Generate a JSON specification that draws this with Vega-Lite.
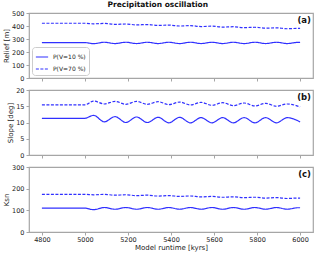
{
  "$schema": "https://vega.github.io/schema/vega-lite/v6.json",
  "padding": {"left": 1, "right": 6, "top": 0, "bottom": 0},
  "title": {"text": "Precipitation oscillation", "fontSize": 7.5, "font": "DejaVu Sans", "fontWeight": "bold", "offset": 1, "anchor": "middle", "color": "#111"},
  "config": {
    "font": "DejaVu Sans",
    "view": {"stroke": "#a6a6a6", "strokeWidth": 1.2},
    "axis": {"domain": false, "grid": false, "labelFontSize": 6.5, "titleFontSize": 7, "titleFontWeight": "normal", "tickColor": "#a6a6a6", "tickSize": 3, "labelColor": "#222", "titleColor": "#222", "labelPadding": 2, "titlePadding": 2, "labelOverlap": false},
    "legend": {"symbolStrokeColor": "#3030ff"}
  },
  "data": {"values": [
    {"panel": "Relief", "series": "P(V=10 %)", "t": 4800, "v": 272},
    {"panel": "Relief", "series": "P(V=10 %)", "t": 5000, "v": 272},
    {"panel": "Relief", "series": "P(V=10 %)", "t": 5040, "v": 264},
    {"panel": "Relief", "series": "P(V=10 %)", "t": 5090, "v": 275},
    {"panel": "Relief", "series": "P(V=10 %)", "t": 5140, "v": 265},
    {"panel": "Relief", "series": "P(V=10 %)", "t": 5190, "v": 275},
    {"panel": "Relief", "series": "P(V=10 %)", "t": 5240, "v": 265},
    {"panel": "Relief", "series": "P(V=10 %)", "t": 5290, "v": 275},
    {"panel": "Relief", "series": "P(V=10 %)", "t": 5340, "v": 265},
    {"panel": "Relief", "series": "P(V=10 %)", "t": 5390, "v": 275},
    {"panel": "Relief", "series": "P(V=10 %)", "t": 5440, "v": 265},
    {"panel": "Relief", "series": "P(V=10 %)", "t": 5490, "v": 275},
    {"panel": "Relief", "series": "P(V=10 %)", "t": 5540, "v": 265},
    {"panel": "Relief", "series": "P(V=10 %)", "t": 5590, "v": 275},
    {"panel": "Relief", "series": "P(V=10 %)", "t": 5640, "v": 265},
    {"panel": "Relief", "series": "P(V=10 %)", "t": 5690, "v": 275},
    {"panel": "Relief", "series": "P(V=10 %)", "t": 5740, "v": 265},
    {"panel": "Relief", "series": "P(V=10 %)", "t": 5790, "v": 275},
    {"panel": "Relief", "series": "P(V=10 %)", "t": 5840, "v": 265},
    {"panel": "Relief", "series": "P(V=10 %)", "t": 5890, "v": 275},
    {"panel": "Relief", "series": "P(V=10 %)", "t": 5940, "v": 265},
    {"panel": "Relief", "series": "P(V=10 %)", "t": 5990, "v": 274},
    {"panel": "Relief", "series": "P(V=10 %)", "t": 6000, "v": 274},
    {"panel": "Relief", "series": "P(V=70 %)", "t": 4800, "v": 421},
    {"panel": "Relief", "series": "P(V=70 %)", "t": 5000, "v": 421},
    {"panel": "Relief", "series": "P(V=70 %)", "t": 5040, "v": 416.8},
    {"panel": "Relief", "series": "P(V=70 %)", "t": 5090, "v": 419.7},
    {"panel": "Relief", "series": "P(V=70 %)", "t": 5140, "v": 412.6},
    {"panel": "Relief", "series": "P(V=70 %)", "t": 5190, "v": 415.5},
    {"panel": "Relief", "series": "P(V=70 %)", "t": 5240, "v": 408.4},
    {"panel": "Relief", "series": "P(V=70 %)", "t": 5290, "v": 411.3},
    {"panel": "Relief", "series": "P(V=70 %)", "t": 5340, "v": 404.2},
    {"panel": "Relief", "series": "P(V=70 %)", "t": 5390, "v": 407.1},
    {"panel": "Relief", "series": "P(V=70 %)", "t": 5440, "v": 400.0},
    {"panel": "Relief", "series": "P(V=70 %)", "t": 5490, "v": 402.9},
    {"panel": "Relief", "series": "P(V=70 %)", "t": 5540, "v": 395.8},
    {"panel": "Relief", "series": "P(V=70 %)", "t": 5590, "v": 398.7},
    {"panel": "Relief", "series": "P(V=70 %)", "t": 5640, "v": 391.6},
    {"panel": "Relief", "series": "P(V=70 %)", "t": 5690, "v": 394.5},
    {"panel": "Relief", "series": "P(V=70 %)", "t": 5740, "v": 387.4},
    {"panel": "Relief", "series": "P(V=70 %)", "t": 5790, "v": 390.3},
    {"panel": "Relief", "series": "P(V=70 %)", "t": 5840, "v": 383.2},
    {"panel": "Relief", "series": "P(V=70 %)", "t": 5890, "v": 386.1},
    {"panel": "Relief", "series": "P(V=70 %)", "t": 5940, "v": 379.0},
    {"panel": "Relief", "series": "P(V=70 %)", "t": 5990, "v": 381.9},
    {"panel": "Relief", "series": "P(V=70 %)", "t": 6000, "v": 381.5},
    {"panel": "Slope", "series": "P(V=10 %)", "t": 4800, "v": 11.3},
    {"panel": "Slope", "series": "P(V=10 %)", "t": 5000, "v": 11.3},
    {"panel": "Slope", "series": "P(V=10 %)", "t": 5040, "v": 12.2},
    {"panel": "Slope", "series": "P(V=10 %)", "t": 5090, "v": 10.2},
    {"panel": "Slope", "series": "P(V=10 %)", "t": 5140, "v": 11.8},
    {"panel": "Slope", "series": "P(V=10 %)", "t": 5190, "v": 10.0},
    {"panel": "Slope", "series": "P(V=10 %)", "t": 5240, "v": 11.7},
    {"panel": "Slope", "series": "P(V=10 %)", "t": 5290, "v": 10.0},
    {"panel": "Slope", "series": "P(V=10 %)", "t": 5340, "v": 11.6},
    {"panel": "Slope", "series": "P(V=10 %)", "t": 5390, "v": 9.9},
    {"panel": "Slope", "series": "P(V=10 %)", "t": 5440, "v": 11.6},
    {"panel": "Slope", "series": "P(V=10 %)", "t": 5490, "v": 9.9},
    {"panel": "Slope", "series": "P(V=10 %)", "t": 5540, "v": 11.5},
    {"panel": "Slope", "series": "P(V=10 %)", "t": 5590, "v": 9.9},
    {"panel": "Slope", "series": "P(V=10 %)", "t": 5640, "v": 11.5},
    {"panel": "Slope", "series": "P(V=10 %)", "t": 5690, "v": 9.9},
    {"panel": "Slope", "series": "P(V=10 %)", "t": 5740, "v": 11.5},
    {"panel": "Slope", "series": "P(V=10 %)", "t": 5790, "v": 9.9},
    {"panel": "Slope", "series": "P(V=10 %)", "t": 5840, "v": 11.5},
    {"panel": "Slope", "series": "P(V=10 %)", "t": 5890, "v": 9.9},
    {"panel": "Slope", "series": "P(V=10 %)", "t": 5940, "v": 11.5},
    {"panel": "Slope", "series": "P(V=10 %)", "t": 6000, "v": 10.2},
    {"panel": "Slope", "series": "P(V=70 %)", "t": 4800, "v": 15.45},
    {"panel": "Slope", "series": "P(V=70 %)", "t": 5000, "v": 15.45},
    {"panel": "Slope", "series": "P(V=70 %)", "t": 5040, "v": 16.6},
    {"panel": "Slope", "series": "P(V=70 %)", "t": 5090, "v": 15.7},
    {"panel": "Slope", "series": "P(V=70 %)", "t": 5140, "v": 16.5},
    {"panel": "Slope", "series": "P(V=70 %)", "t": 5190, "v": 15.6},
    {"panel": "Slope", "series": "P(V=70 %)", "t": 5240, "v": 16.5},
    {"panel": "Slope", "series": "P(V=70 %)", "t": 5290, "v": 15.6},
    {"panel": "Slope", "series": "P(V=70 %)", "t": 5340, "v": 16.4},
    {"panel": "Slope", "series": "P(V=70 %)", "t": 5390, "v": 15.5},
    {"panel": "Slope", "series": "P(V=70 %)", "t": 5440, "v": 16.3},
    {"panel": "Slope", "series": "P(V=70 %)", "t": 5490, "v": 15.4},
    {"panel": "Slope", "series": "P(V=70 %)", "t": 5540, "v": 16.2},
    {"panel": "Slope", "series": "P(V=70 %)", "t": 5590, "v": 15.3},
    {"panel": "Slope", "series": "P(V=70 %)", "t": 5640, "v": 16.1},
    {"panel": "Slope", "series": "P(V=70 %)", "t": 5690, "v": 15.2},
    {"panel": "Slope", "series": "P(V=70 %)", "t": 5740, "v": 16.0},
    {"panel": "Slope", "series": "P(V=70 %)", "t": 5790, "v": 15.1},
    {"panel": "Slope", "series": "P(V=70 %)", "t": 5840, "v": 15.9},
    {"panel": "Slope", "series": "P(V=70 %)", "t": 5890, "v": 15.0},
    {"panel": "Slope", "series": "P(V=70 %)", "t": 5940, "v": 15.7},
    {"panel": "Slope", "series": "P(V=70 %)", "t": 6000, "v": 14.8},
    {"panel": "Ksn", "series": "P(V=10 %)", "t": 4800, "v": 110},
    {"panel": "Ksn", "series": "P(V=10 %)", "t": 5000, "v": 110},
    {"panel": "Ksn", "series": "P(V=10 %)", "t": 5040, "v": 103},
    {"panel": "Ksn", "series": "P(V=10 %)", "t": 5090, "v": 113},
    {"panel": "Ksn", "series": "P(V=10 %)", "t": 5140, "v": 105},
    {"panel": "Ksn", "series": "P(V=10 %)", "t": 5190, "v": 113},
    {"panel": "Ksn", "series": "P(V=10 %)", "t": 5240, "v": 105},
    {"panel": "Ksn", "series": "P(V=10 %)", "t": 5290, "v": 113},
    {"panel": "Ksn", "series": "P(V=10 %)", "t": 5340, "v": 105},
    {"panel": "Ksn", "series": "P(V=10 %)", "t": 5390, "v": 113},
    {"panel": "Ksn", "series": "P(V=10 %)", "t": 5440, "v": 105},
    {"panel": "Ksn", "series": "P(V=10 %)", "t": 5490, "v": 113},
    {"panel": "Ksn", "series": "P(V=10 %)", "t": 5540, "v": 105},
    {"panel": "Ksn", "series": "P(V=10 %)", "t": 5590, "v": 113},
    {"panel": "Ksn", "series": "P(V=10 %)", "t": 5640, "v": 105},
    {"panel": "Ksn", "series": "P(V=10 %)", "t": 5690, "v": 113},
    {"panel": "Ksn", "series": "P(V=10 %)", "t": 5740, "v": 105},
    {"panel": "Ksn", "series": "P(V=10 %)", "t": 5790, "v": 113},
    {"panel": "Ksn", "series": "P(V=10 %)", "t": 5840, "v": 105},
    {"panel": "Ksn", "series": "P(V=10 %)", "t": 5890, "v": 113},
    {"panel": "Ksn", "series": "P(V=10 %)", "t": 5940, "v": 105},
    {"panel": "Ksn", "series": "P(V=10 %)", "t": 5990, "v": 112},
    {"panel": "Ksn", "series": "P(V=10 %)", "t": 6000, "v": 112},
    {"panel": "Ksn", "series": "P(V=70 %)", "t": 4800, "v": 174},
    {"panel": "Ksn", "series": "P(V=70 %)", "t": 5000, "v": 174},
    {"panel": "Ksn", "series": "P(V=70 %)", "t": 5040, "v": 171.7},
    {"panel": "Ksn", "series": "P(V=70 %)", "t": 5090, "v": 173.8},
    {"panel": "Ksn", "series": "P(V=70 %)", "t": 5140, "v": 169.8},
    {"panel": "Ksn", "series": "P(V=70 %)", "t": 5190, "v": 171.9},
    {"panel": "Ksn", "series": "P(V=70 %)", "t": 5240, "v": 167.9},
    {"panel": "Ksn", "series": "P(V=70 %)", "t": 5290, "v": 170.0},
    {"panel": "Ksn", "series": "P(V=70 %)", "t": 5340, "v": 166.0},
    {"panel": "Ksn", "series": "P(V=70 %)", "t": 5390, "v": 168.1},
    {"panel": "Ksn", "series": "P(V=70 %)", "t": 5440, "v": 164.1},
    {"panel": "Ksn", "series": "P(V=70 %)", "t": 5490, "v": 166.2},
    {"panel": "Ksn", "series": "P(V=70 %)", "t": 5540, "v": 162.2},
    {"panel": "Ksn", "series": "P(V=70 %)", "t": 5590, "v": 164.3},
    {"panel": "Ksn", "series": "P(V=70 %)", "t": 5640, "v": 160.3},
    {"panel": "Ksn", "series": "P(V=70 %)", "t": 5690, "v": 162.4},
    {"panel": "Ksn", "series": "P(V=70 %)", "t": 5740, "v": 158.4},
    {"panel": "Ksn", "series": "P(V=70 %)", "t": 5790, "v": 160.5},
    {"panel": "Ksn", "series": "P(V=70 %)", "t": 5840, "v": 156.5},
    {"panel": "Ksn", "series": "P(V=70 %)", "t": 5890, "v": 158.6},
    {"panel": "Ksn", "series": "P(V=70 %)", "t": 5940, "v": 154.6},
    {"panel": "Ksn", "series": "P(V=70 %)", "t": 5990, "v": 156.7},
    {"panel": "Ksn", "series": "P(V=70 %)", "t": 6000, "v": 156.5}
  ]},
  "spacing": 3,
  "resolve": {"legend": {"strokeDash": "independent", "color": "independent"}},
  "vconcat": [
    {
      "width": 284, "height": 65,
      "encoding": {
        "x": {"field": "t", "type": "quantitative", "scale": {"domain": [4740, 6060], "nice": false, "zero": false}, "axis": {"values": [4800, 5000, 5200, 5400, 5600, 5800, 6000], "labels": false, "title": null}},
        "y": {"field": "v", "type": "quantitative", "scale": {"domain": [0, 500], "nice": false}, "axis": {"values": [0, 100, 200, 300, 400, 500], "title": "Relief [m]"}}
      },
      "layer": [
        {
          "transform": [{"filter": "datum.panel === 'Relief'"}],
          "mark": {"type": "line", "strokeWidth": 1.2, "interpolate": "monotone"},
          "encoding": {
            "color": {"field": "series", "type": "nominal", "scale": {"domain": ["P(V=10 %)", "P(V=70 %)"], "range": ["#3030ff", "#3030ff"]},
              "legend": {"title": null, "orient": "bottom-left", "offset": 3, "symbolType": "stroke", "symbolStrokeWidth": 1.2, "symbolSize": 150, "labelFontSize": 6, "fillColor": "white", "strokeColor": "#cccccc", "cornerRadius": 3, "padding": 3, "rowPadding": 2, "labelColor": "#222", "labelOffset": 4}},
            "strokeDash": {"field": "series", "type": "nominal", "scale": {"domain": ["P(V=10 %)", "P(V=70 %)"], "range": [[1, 0], [3, 1.5]]},
              "legend": {"title": null, "orient": "bottom-left", "offset": 3, "symbolType": "stroke", "symbolStrokeWidth": 1.2, "symbolSize": 150, "labelFontSize": 6, "fillColor": "white", "strokeColor": "#cccccc", "cornerRadius": 3, "padding": 3, "rowPadding": 2, "labelColor": "#222", "labelOffset": 4}}
          }
        },
        {
          "data": {"values": [{"label": "(a)", "t": 6060, "v": 500}]},
          "mark": {"type": "text", "align": "right", "baseline": "top", "fontWeight": "bold", "fontSize": 8.5, "dx": -2, "dy": 3, "color": "#111"},
          "encoding": {"text": {"field": "label"}}
        }
      ]
    },
    {
      "width": 284, "height": 65,
      "encoding": {
        "x": {"field": "t", "type": "quantitative", "scale": {"domain": [4740, 6060], "nice": false, "zero": false}, "axis": {"values": [4800, 5000, 5200, 5400, 5600, 5800, 6000], "labels": false, "title": null}},
        "y": {"field": "v", "type": "quantitative", "scale": {"domain": [0, 20], "nice": false}, "axis": {"values": [0, 5, 10, 15, 20], "title": "Slope [deg]"}}
      },
      "layer": [
        {
          "transform": [{"filter": "datum.panel === 'Slope'"}],
          "mark": {"type": "line", "strokeWidth": 1.2, "interpolate": "monotone"},
          "encoding": {
            "color": {"field": "series", "type": "nominal", "scale": {"domain": ["P(V=10 %)", "P(V=70 %)"], "range": ["#3030ff", "#3030ff"]}, "legend": null},
            "strokeDash": {"field": "series", "type": "nominal", "scale": {"domain": ["P(V=10 %)", "P(V=70 %)"], "range": [[1, 0], [3, 1.5]]}, "legend": null}
          }
        },
        {
          "data": {"values": [{"label": "(b)", "t": 6060, "v": 20}]},
          "mark": {"type": "text", "align": "right", "baseline": "top", "fontWeight": "bold", "fontSize": 8.5, "dx": -2, "dy": 3, "color": "#111"},
          "encoding": {"text": {"field": "label"}}
        }
      ]
    },
    {
      "width": 284, "height": 65,
      "encoding": {
        "x": {"field": "t", "type": "quantitative", "scale": {"domain": [4740, 6060], "nice": false, "zero": false}, "axis": {"values": [4800, 5000, 5200, 5400, 5600, 5800, 6000], "format": "d", "title": "Model runtime [kyrs]", "labelPadding": 1, "titlePadding": 1}},
        "y": {"field": "v", "type": "quantitative", "scale": {"domain": [0, 300], "nice": false}, "axis": {"values": [0, 100, 200, 300], "title": "Ksn"}}
      },
      "layer": [
        {
          "transform": [{"filter": "datum.panel === 'Ksn'"}],
          "mark": {"type": "line", "strokeWidth": 1.2, "interpolate": "monotone"},
          "encoding": {
            "color": {"field": "series", "type": "nominal", "scale": {"domain": ["P(V=10 %)", "P(V=70 %)"], "range": ["#3030ff", "#3030ff"]}, "legend": null},
            "strokeDash": {"field": "series", "type": "nominal", "scale": {"domain": ["P(V=10 %)", "P(V=70 %)"], "range": [[1, 0], [3, 1.5]]}, "legend": null}
          }
        },
        {
          "data": {"values": [{"label": "(c)", "t": 6060, "v": 300}]},
          "mark": {"type": "text", "align": "right", "baseline": "top", "fontWeight": "bold", "fontSize": 8.5, "dx": -2, "dy": 3, "color": "#111"},
          "encoding": {"text": {"field": "label"}}
        }
      ]
    }
  ]
}
